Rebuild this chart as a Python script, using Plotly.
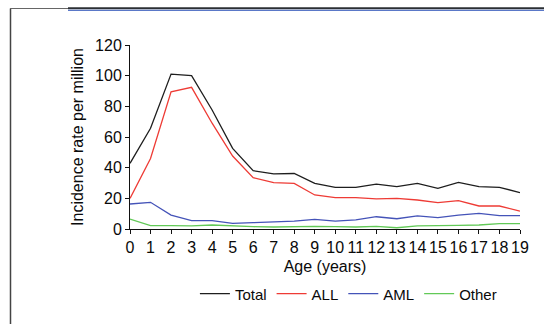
import plotly.graph_objects as go

# Incidence of childhood leukaemia by single year of age
ages = list(range(20))
total = [42.8, 65.7, 101.0, 100.0, 77.6, 52.6, 38.0, 35.9, 36.2, 29.8,
         27.2, 27.2, 29.3, 27.6, 29.8, 26.5, 30.4, 27.6, 27.2, 23.7]
all_rate = [20.0, 46.0, 89.5, 92.4, 69.0, 47.6, 33.5, 30.2, 29.7, 22.2,
            20.4, 20.4, 19.6, 20.0, 18.9, 17.2, 18.5, 15.0, 15.0, 11.7]
aml_rate = [16.3, 17.4, 9.1, 5.4, 5.4, 3.7, 4.1, 4.6, 5.2, 6.3,
            5.2, 5.9, 8.0, 6.7, 8.5, 7.4, 9.1, 10.2, 8.7, 8.7]
other_rate = [6.5, 2.2, 2.2, 2.0, 2.6, 2.0, 1.5, 1.3, 1.6, 1.7,
              1.5, 1.3, 1.7, 0.8, 2.0, 2.0, 2.4, 2.6, 3.5, 3.5]

series = [
    ("Total", total, "#1e1e1e"),
    ("ALL", all_rate, "#ee3b35"),
    ("AML", aml_rate, "#4453b8"),
    ("Other", other_rate, "#62c957"),
]

FONT = "Liberation Sans, Arial, sans-serif"

fig = go.Figure()
for name, vals, color in series:
    fig.add_trace(go.Scatter(
        x=ages, y=vals, name=name, mode="lines",
        line=dict(color=color, width=1.3),
    ))

fig.update_layout(
    width=544, height=324, autosize=False,
    margin=dict(l=130, r=24, t=45, b=95),
    paper_bgcolor="white", plot_bgcolor="white",
    font=dict(family=FONT, size=16, color="#0a0a0a"),
    showlegend=True,
    legend=dict(
        orientation="h", x=0.56, xanchor="center", y=-0.353, yanchor="middle",
        font=dict(size=15), itemwidth=30, tracegroupgap=0,
    ),
)

fig.update_xaxes(
    range=[0, 19], tickmode="linear", tick0=0, dtick=1,
    showgrid=False, zeroline=False,
    showline=True, linecolor="#111", linewidth=1,
    ticks="outside", ticklen=4, tickcolor="#111",
    tickfont=dict(size=16),
    title=dict(text="Age (years)", font=dict(size=16), standoff=5),
)
fig.update_yaxes(
    range=[0, 120], tickmode="linear", tick0=0, dtick=20,
    showgrid=False, zeroline=False,
    showline=True, linecolor="#111", linewidth=1,
    ticks="outside", ticklen=4, tickcolor="#111",
    tickfont=dict(size=16),
    title=dict(text="Incidence rate per million", font=dict(size=16), standoff=7),
)

# Page frame: left rule and top rule with a blue underline
def px_x(px):
    return (px - 130) / 390

def px_y(py):
    return (229 - py) / 184

frame = [
    dict(x0=px_x(10.5), x1=px_x(10.5), y0=px_y(8.5), y1=px_y(330), color="#444", width=1.5),
    dict(x0=px_x(10), x1=px_x(68), y0=px_y(8.5), y1=px_y(8.5), color="#666", width=1),
    dict(x0=px_x(68), x1=px_x(550), y0=px_y(8.3), y1=px_y(8.3), color="#2b2f33", width=2),
    dict(x0=px_x(68), x1=px_x(550), y0=px_y(10.3), y1=px_y(10.3), color="#5a78c8", width=1.2),
]
for f in frame:
    fig.add_shape(type="line", xref="paper", yref="paper",
                  x0=f["x0"], x1=f["x1"], y0=f["y0"], y1=f["y1"],
                  line=dict(color=f["color"], width=f["width"]), layer="above")

fig.write_html("out.html")
